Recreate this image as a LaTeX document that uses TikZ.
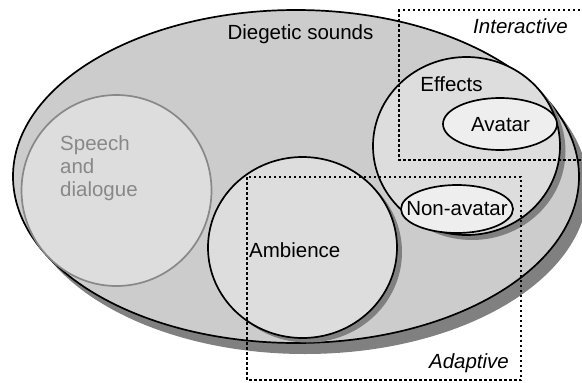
\documentclass[tikz,border=0pt]{standalone}
\usepackage{fontspec}
\setmainfont{Liberation Sans}
\definecolor{bigfill}{HTML}{CCCCCC}
\definecolor{innerfill}{HTML}{DDDDDD}
\definecolor{smallfill}{HTML}{EEEEEE}
\definecolor{shadowgray}{HTML}{808080}
\definecolor{speechgray}{HTML}{888888}
\begin{document}
\begin{tikzpicture}[x=1pt,y=-1pt,
  outline/.style={draw=black,line width=1.7pt},
  speechline/.style={draw=speechgray,line width=1.7pt},
  boxline/.style={draw=black,line width=2pt,dash pattern=on 2.5pt off 2.5pt},
  lbl/.style={font=\fontsize{20.5}{23.3}\selectfont,inner sep=0pt}]
\useasboundingbox (0,0) rectangle (582,383);
\clip (0,0) rectangle (582,383);
\fill[white] (0,0) rectangle (582,383);
% Diegetic sounds
\fill[shadowgray] (305,187.5) ellipse (283 and 166.5);
\filldraw[outline,fill=bigfill] (296,176.5) ellipse (283 and 166.5);
% Speech
\filldraw[speechline,fill=innerfill] (116.5,190.5) ellipse (95 and 95.5);
% Ambience
\fill[shadowgray] (307.5,252) ellipse (94.5 and 90.5);
\filldraw[outline,fill=innerfill] (302.5,247.5) ellipse (94.5 and 90.5);
% Effects
\fill[shadowgray] (472,151) ellipse (93.5 and 89);
\filldraw[outline,fill=innerfill] (466.5,146) ellipse (93.5 and 89);
% Avatar / Non-avatar
\filldraw[outline,fill=smallfill] (500,124) ellipse (57 and 26);
\filldraw[outline,fill=smallfill] (457,209) ellipse (56 and 24);
% dotted boxes
\draw[boxline] (590,10) -- (399,10) -- (399,160) -- (590,160);
\draw[boxline] (247,177) rectangle (521,380);
% labels
\node[lbl,anchor=base] (diegetic) at (300.5,39.5) {Diegetic sounds};
\node[lbl,anchor=base] (interactive) at (520.5,33.3) {\itshape Interactive};
\node[lbl,anchor=base] (effects) at (451.5,91.7) {Effects};
\node[lbl,anchor=base] (avatar) at (500.5,131.7) {Avatar};
\node[lbl,anchor=base] (nonavatar) at (457,215.3) {Non-avatar};
\node[lbl,anchor=base west] (ambience) at (249,257) {Ambience};
\node[lbl,anchor=base] (adaptive) at (469,368) {\itshape Adaptive};
\node[lbl,anchor=base west,text=speechgray] (speech1) at (60,150) {Speech};
\node[lbl,anchor=base west,text=speechgray] (speech2) at (60,173.3) {and};
\node[lbl,anchor=base west,text=speechgray] (speech3) at (60,196.7) {dialogue};
\end{tikzpicture}
\end{document}
